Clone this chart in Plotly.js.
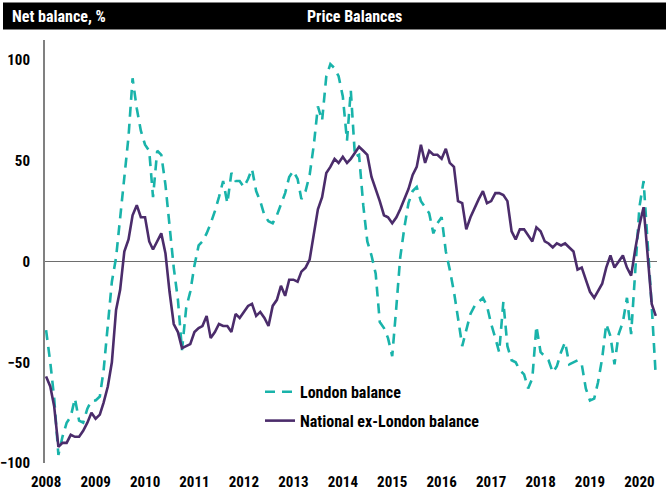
<!DOCTYPE html>
<html>
<head>
<meta charset="utf-8">
<script src="https://cdn.plot.ly/plotly-3.0.1.min.js"></script>
<style>html,body{margin:0;padding:0;background:#fff;}#chart{width:669px;height:493px;}</style>
</head>
<body>
<div id="chart"></div>
<script>
// Monthly series, Jan 2008 .. May 2020
var startYear = 2008;
var startMonth = 1;
var londonBalance = [
  -34,-50,-68,-96,-87,-80,-77,-68,-79,-80,-73,-69,
  -69,-67,-54,-30,-10,2,22,42,62,91,76,65,
  58,55,32,55,53,38,17,-3,-19,-44,-23,-15,
  -2,8,10,14,19,25,32,40,29,44,40,40,
  37,41,46,35,30,23,20,19,23,28,34,42,
  45,41,31,35,43,58,77,70,92,98,96,92,
  82,60,85,52,53,28,10,3,-6,-30,-33,-38,
  -47,-22,2,17,29,35,37,30,27,24,14,19,
  22,5,-4,-15,-28,-42,-34,-26,-22,-20,-18,-22,
  -31,-38,-45,-20,-42,-49,-50,-54,-56,-63,-58,-32,
  -45,-47,-49,-55,-52,-45,-40,-51,-50,-49,-51,-63,
  -69,-68,-60,-48,-31,-37,-51,-36,-30,-18,-36,-6,
  27,40,12,-22,-57
];
var nationalExLondon = [
  -57,-62,-72,-92,-90,-90,-86,-87,-87,-84,-80,-75,
  -78,-76,-70,-62,-50,-24,-14,5,11,23,28,22,
  22,10,6,10,14,4,-15,-31,-35,-43,-42,-41,
  -35,-33,-32,-27,-38,-35,-31,-32,-32,-35,-26,-28,
  -25,-22,-21,-27,-25,-28,-32,-22,-19,-12,-17,-9,
  -9,-10,-5,-3,1,13,26,32,44,47,51,49,
  52,49,51,54,57,55,53,42,36,30,23,22,
  19,22,26,31,36,43,47,58,49,55,53,53,
  51,56,49,47,30,29,16,22,27,31,35,29,
  30,34,34,33,30,15,11,16,16,13,10,17,
  15,10,9,7,9,8,9,7,5,-4,-3,-9,
  -15,-18,-15,-11,-3,3,-3,0,3,-3,-7,6,
  18,27,3,-21,-27
];
var seriesNames = ['London balance', 'National ex-London balance'];
var yearLabels = ['2008','2009','2010','2011','2012','2013','2014','2015','2016','2017','2018','2019','2020'];
var yTicks = [-100, -50, 0, 50, 100];

function pad(n){ return (n < 10 ? '0' : '') + n; }
var months = [];
for (var i = 0; i < londonBalance.length; i++) {
  var mm = startMonth - 1 + i;
  months.push((startYear + Math.floor(mm / 12)) + '-' + pad(mm % 12 + 1) + '-01');
}
var yearTickVals = yearLabels.map(function(y){ return y + '-01-01'; });

var FONT = '"Liberation Sans Narrow", "Arial Narrow", "Roboto Condensed", "Liberation Sans", Arial, sans-serif';

var traces = [
  {
    x: months, y: londonBalance, type: 'scatter', mode: 'lines',
    name: seriesNames[0], legendgroup: 'a',
    line: {color: '#19B3AA', width: 2.6, dash: '10px,7px'}
  },
  {
    x: months, y: nationalExLondon, type: 'scatter', mode: 'lines',
    name: seriesNames[1], legendgroup: 'b',
    line: {color: '#4B2C6B', width: 2.6}
  }
];

// pixel helpers for paper placement (plot area: x 45..657, y 40.4..463)
function px(x){ return (x - 45) / 612; }
function py(y){ return (463 - y) / 422.6; }

var layout = {
  width: 669, height: 493,
  margin: {l: 45, r: 12, t: 40, b: 30, pad: 0},
  paper_bgcolor: '#ffffff', plot_bgcolor: '#ffffff',
  font: {family: FONT, size: 15, color: '#000', weight: 'bold'},
  showlegend: true,
  legend: {
    x: px(260), y: py(375), xanchor: 'left', yanchor: 'top',
    bgcolor: 'rgba(0,0,0,0)', borderwidth: 0,
    font: {family: FONT, size: 16, color: '#000', weight: 'bold'},
    traceorder: 'grouped', tracegroupgap: 5, itemwidth: 30
  },
  xaxis: {
    type: 'date', range: ['2007-12-24', '2020-05-10'],
    tickmode: 'array', tickvals: yearTickVals, ticktext: yearLabels,
    showgrid: false, showline: false, zeroline: false, ticks: '',
    tickfont: {family: FONT, size: 15, color: '#000', weight: 'bold'},
    ticklabelstandoff: 8, fixedrange: true
  },
  yaxis: {
    range: [-100, 110], tickmode: 'array', tickvals: yTicks,
    showgrid: false, showline: true, linecolor: '#808080', linewidth: 2,
    zeroline: true, zerolinecolor: '#6e6e6e', zerolinewidth: 1.5,
    ticks: '', ticklabelstandoff: 10,
    tickfont: {family: FONT, size: 15, color: '#000', weight: 'bold'},
    fixedrange: true
  },
  shapes: [
    {type: 'rect', xref: 'paper', yref: 'paper',
     x0: px(3), x1: px(666), y0: py(30), y1: py(3),
     fillcolor: '#000000', line: {width: 0}, layer: 'above'}
  ],
  annotations: [
    {text: 'Net balance, %', xref: 'paper', yref: 'paper', x: px(10), y: py(16.5),
     xanchor: 'left', yanchor: 'middle', showarrow: false,
     font: {family: FONT, size: 16, color: '#ffffff', weight: 'bold'}},
    {text: 'Price Balances', xref: 'paper', yref: 'paper', x: px(354), y: py(16.5),
     xanchor: 'center', yanchor: 'middle', showarrow: false,
     font: {family: FONT, size: 16, color: '#ffffff', weight: 'bold'}}
  ]
};

Plotly.newPlot('chart', traces, layout, {displayModeBar: false, staticPlot: true});
</script>
</body>
</html>
